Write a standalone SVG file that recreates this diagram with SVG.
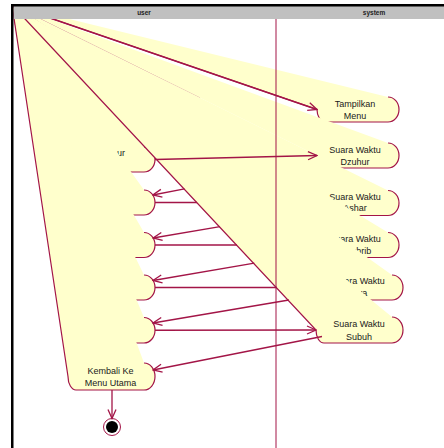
<svg xmlns="http://www.w3.org/2000/svg" width="444" height="448" viewBox="0 0 444 448">
<style>
.f{fill:#ffffcc;stroke:none}
.s{fill:none;stroke:#a31547;stroke-width:1.2}
.t{font-family:"Liberation Sans",Arial,sans-serif;font-size:9px;fill:#1a1a1a;text-anchor:middle}
.c{fill:none;stroke:#a31547;stroke-width:1.3}
.h{font-family:"Liberation Sans",Arial,sans-serif;font-size:6.5px;font-weight:bold;fill:#222;text-anchor:middle}
</style>
<defs>
<marker id="a" viewBox="-10 -5 11 10" refX="0" refY="0" markerWidth="11" markerHeight="10" markerUnits="userSpaceOnUse" orient="auto"><path d="M-9,-4 L0,0 L-9,4" fill="none" stroke="#a31547" stroke-width="1.3"/></marker>
</defs>
<rect width="444" height="448" fill="#fff"/>
<g id="n-tampilkan-menu"><path class="f" d="M12,5 L388,97 A11,12.5 0 0 1 388,122 L325,122 A8,12.5 0 0 1 317,109.5 Z"/><path class="s" d="M388,97 A11,12.5 0 0 1 388,122 L325,122 A8,12.5 0 0 1 317,109.5 L12,5"/><text class="t" x="355" y="106.5">Tampilkan</text><text class="t" x="355" y="118.5">Menu</text></g>
<g id="n-user-1"><path class="f" d="M12,5 L144,147 A11,12.5 0 0 1 144,172 L76,172 A8,12.5 0 0 1 68,159.5 Z"/><path class="s" d="M144,147 A11,12.5 0 0 1 144,172 L76,172 A8,12.5 0 0 1 68,159.5 L12,5"/><text class="t" x="117" y="156" style="text-anchor:start">ur</text></g>
<g id="n-suara-dzuhur"><path class="f" d="M12,5 L388,143 A11,12.5 0 0 1 388,168 L325,168 A8,12.5 0 0 1 317,155.5 Z"/><path class="s" d="M388,143 A11,12.5 0 0 1 388,168 L325,168 A8,12.5 0 0 1 317,155.5"/><path d="M12,5 L200,98" stroke="#a31547" stroke-width="0.8" stroke-opacity="0.55" fill="none"/><text class="t" x="355" y="152.5">Suara Waktu</text><text class="t" x="355" y="164.5">Dzuhur</text></g>
<g id="n-user-2"><path class="f" d="M12,5 L144,190 A11,12.5 0 0 1 144,215 L76,215 A8,12.5 0 0 1 68,202.5 Z"/><path class="s" d="M144,190 A11,12.5 0 0 1 144,215 L76,215 A8,12.5 0 0 1 68,202.5 L12,5"/></g>
<g id="n-suara-ashar"><path class="f" d="M12,5 L388,190.5 A11,12.5 0 0 1 388,215.5 L325,215.5 A8,12.5 0 0 1 317,203 Z"/><path class="s" d="M388,190.5 A11,12.5 0 0 1 388,215.5 L325,215.5 A8,12.5 0 0 1 317,203 L12,5"/><text class="t" x="355" y="199.5">Suara Waktu</text><text class="t" x="355" y="211">Ashar</text></g>
<g id="n-user-3"><path class="f" d="M12,5 L144,232.5 A11,12.5 0 0 1 144,257.5 L76,257.5 A8,12.5 0 0 1 68,245 Z"/><path class="s" d="M144,232.5 A11,12.5 0 0 1 144,257.5 L76,257.5 A8,12.5 0 0 1 68,245 L12,5"/></g>
<g id="n-suara-maghrib"><path class="f" d="M12,5 L388,232.5 A11,12.5 0 0 1 388,257.5 L325,257.5 A8,12.5 0 0 1 317,245 Z"/><path class="s" d="M388,232.5 A11,12.5 0 0 1 388,257.5 L325,257.5 A8,12.5 0 0 1 317,245 L12,5"/><text class="t" x="355" y="241.7">Suara Waktu</text><text class="t" x="355" y="253.5">Maghrib</text></g>
<g id="n-user-4"><path class="f" d="M12,5 L144,275 A11,12.5 0 0 1 144,300 L76,300 A8,12.5 0 0 1 68,287.5 Z"/><path class="s" d="M144,275 A11,12.5 0 0 1 144,300 L76,300 A8,12.5 0 0 1 68,287.5 L12,5"/></g>
<g id="n-suara-isya"><path class="f" d="M12,5 L392,275 A11,12.5 0 0 1 392,300 L325,300 A8,12.5 0 0 1 317,287.5 Z"/><path class="s" d="M392,275 A11,12.5 0 0 1 392,300 L325,300 A8,12.5 0 0 1 317,287.5 L12,5"/><text class="t" x="359" y="283.5">Suara Waktu</text><text class="t" x="359" y="295.5">Isya</text></g>
<g id="n-user-5"><path class="f" d="M12,5 L144,317.5 A11,12.75 0 0 1 144,343 L76,343 A8,12.75 0 0 1 68,330.25 Z"/><path class="s" d="M144,317.5 A11,12.75 0 0 1 144,343 L76,343 A8,12.75 0 0 1 68,330.25 L12,5"/></g>
<g id="n-suara-subuh"><path class="f" d="M12,5 L392,317 A11,13 0 0 1 392,343 L324,343 A8,13 0 0 1 316,330 Z"/><path class="s" d="M392,317 A11,13 0 0 1 392,343 L324,343 A8,13 0 0 1 316,330 L12,5"/><text class="t" x="359" y="327">Suara Waktu</text><text class="t" x="359" y="339.5">Subuh</text></g>
<g id="n-kembali"><path class="f" d="M12,5 L144,363 A11,13.5 0 0 1 144,390 L76,390 A8,13.5 0 0 1 68,376.5 Z"/><path class="s" d="M144,363 A11,13.5 0 0 1 144,390 L76,390 A8,13.5 0 0 1 68,376.5 L12,5"/><text class="t" x="110.5" y="373.5">Kembali Ke</text><text class="t" x="110.5" y="385.5">Menu Utama</text></g>
<g id="n-final"><circle cx="112" cy="427" r="8.5" fill="#fff" stroke="#a31547" stroke-width="1"/><circle cx="112" cy="427" r="6" fill="#000"/></g>
<g id="connectors" class="c">
<path d="M12,5 L317,109.5" marker-end="url(#a)" stroke-width="1.6"/>
<path d="M155,159.5 L317,155.5" marker-end="url(#a)"/>
<path d="M184.5,188.8 L152.8,195" marker-end="url(#a)"/>
<path d="M155,202.5 L197,202.5"/>
<path d="M220,226.6 L153.1,238" marker-end="url(#a)"/>
<path d="M155,245 L237,245"/>
<path d="M254.3,263.2 L153,280.5" marker-end="url(#a)"/>
<path d="M155,287.5 L277,287.5"/>
<path d="M288.9,300 L153,323" marker-end="url(#a)"/>
<path d="M155,330.25 L316,330" marker-end="url(#a)"/>
<path d="M322,336.5 L153,370" marker-end="url(#a)"/>
<path d="M112,390 L112,418.5" marker-end="url(#a)"/>
</g>
<line x1="276" y1="19" x2="276" y2="448" stroke="#a31547" stroke-width="1"/>
<rect x="13.5" y="6" width="431" height="13" fill="#c0c0c0"/>
<text class="h" x="144" y="15">user</text>
<text class="h" x="374" y="15">system</text>
<path d="M12.25,448 V5.25 H444" fill="none" stroke="#000" stroke-width="2.5"/>
</svg>
